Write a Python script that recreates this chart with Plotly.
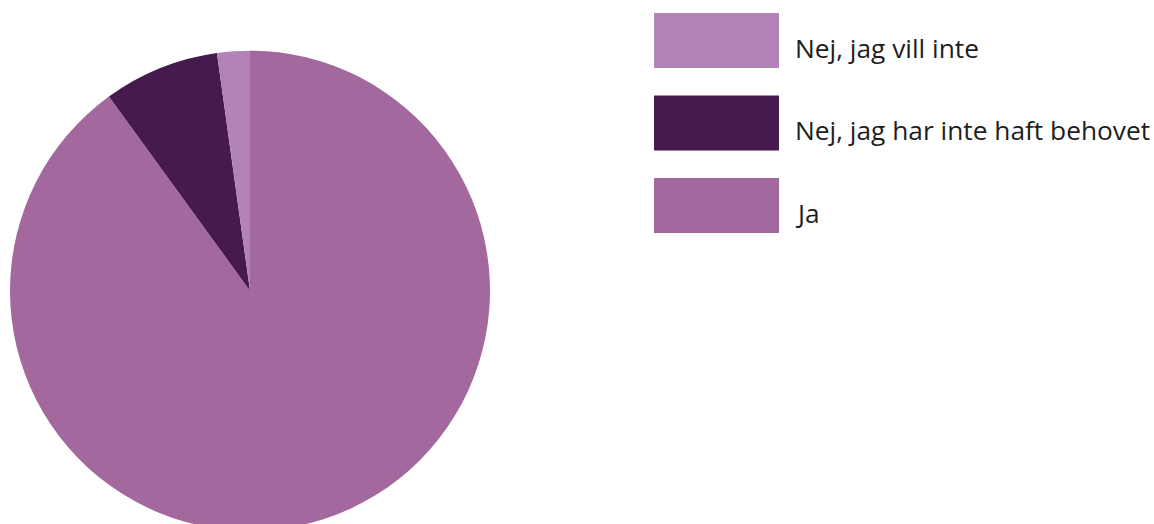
import plotly.graph_objects as go

# Survey answers, legend order
labels = ["Nej, jag vill inte", "Nej, jag har inte haft behovet", "Ja"]
values = [2.2, 7.8, 90.0]
colors = ["#B382B8", "#46194F", "#A3699E"]

W, H = 1154, 540

# pie geometry in pixels (top-left origin)
cx, cy, r = 250, 290.7, 240

# drawn clockwise from 12 o'clock in reverse legend order, so the small
# slices end up just left of the top
fig = go.Figure()
fig.add_trace(go.Pie(
    labels=labels[::-1],
    values=values[::-1],
    marker=dict(colors=colors[::-1], line=dict(width=0)),
    sort=False,
    direction="clockwise",
    rotation=0,
    textinfo="none",
    hoverinfo="label+percent",
    showlegend=False,
    domain=dict(x=[(cx - r) / W, (cx + r) / W],
                y=[1 - (cy + r) / H, 1 - (cy - r) / H]),
))

# custom legend: wide swatches with labels
sw_x0, sw_x1 = 654, 779
sw_h = 55
sw_tops = [13, 95.5, 178]
shapes, annotations = [], []
for lab, col, top in zip(labels, colors, sw_tops):
    shapes.append(dict(type="rect", xref="x", yref="y",
                       x0=sw_x0, x1=sw_x1, y0=top, y1=top + sw_h,
                       fillcolor=col, line=dict(width=0)))
    annotations.append(dict(xref="x", yref="y", x=793, y=top + sw_h / 2 + 7,
                            text=lab, showarrow=False,
                            xanchor="left", yanchor="middle",
                            font=dict(family="Open Sans", size=26.3,
                                      color="#1e1e1e")))

fig.update_layout(
    width=W, height=H,
    margin=dict(l=0, r=0, t=0, b=0),
    paper_bgcolor="white", plot_bgcolor="white",
    xaxis=dict(range=[0, W], visible=False, fixedrange=True),
    yaxis=dict(range=[H, 0], visible=False, fixedrange=True),
    shapes=shapes,
    annotations=annotations,
)

fig.write_html("out.html", post_script=(
    "document.body.style.margin='0';"
    "document.body.style.overflow='hidden';"
    "document.documentElement.style.overflow='hidden';"
))
